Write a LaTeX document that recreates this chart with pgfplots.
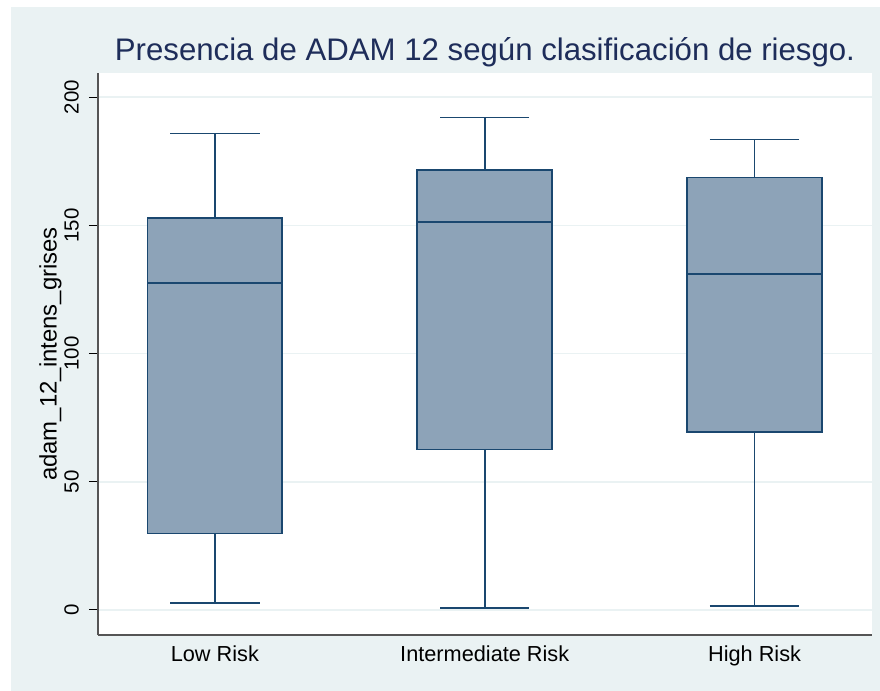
\documentclass[border=0pt]{standalone}
\usepackage{pgfplots}
\pgfplotsset{compat=1.18}
\usepgfplotslibrary{statistics}
\usepackage{fontspec}
\setmainfont{Liberation Sans}
\definecolor{bgc}{HTML}{EAF2F3}
\definecolor{navyc}{HTML}{1A476F}
\definecolor{boxc}{HTML}{8DA3B8}
\definecolor{titlec}{HTML}{1E2D5A}
\definecolor{axc}{HTML}{555555}
\begin{document}
\begin{tikzpicture}
\fill[white] (0bp,0bp) rectangle (880bp,691bp);
\fill[bgc] (11bp,0bp) rectangle (880bp,684bp);
\fill[white] (98bp,56bp) rectangle (872bp,618bp);
\begin{axis}[
  at={(98bp,56bp)}, anchor=south west,
  scale only axis, width=774bp, height=562bp,
  xmin=0.567, xmax=3.435, ymin=-9.75, ymax=209.4,
  axis x line*=bottom, axis y line*=left,
  axis line style={axc, line width=1.5bp},
  xtick={1,2,3},
  xticklabels={Low Risk,Intermediate Risk,High Risk},
  ytick={0,50,100,150,200},
  yticklabels={0,50,100,150,200},
  ymajorgrids,
  grid style={bgc, line width=1.5bp},
  tick align=outside,
  major tick length=9bp,
  major tick style={black, line width=1bp},
  xtick style={draw=none},
  yticklabel style={rotate=90, anchor=south, font=\fontsize{20.5}{24}\selectfont, inner sep=0pt, yshift=10bp},
  xticklabel style={font=\fontsize{21.8}{26}\selectfont, inner sep=0pt, anchor=north, yshift=-2bp},
  ylabel={adam\_12\_intens\_grises},
  ylabel style={at={(axis description cs:-0.0535,0.5)}, anchor=base, font=\fontsize{24}{28}\selectfont},
  title={Presencia de ADAM 12 según clasificación de riesgo.},
  title style={font=\fontsize{31.3}{36}\selectfont, text=titlec, yshift=-3bp},
  boxplot/draw direction=y,
]
\addplot+[draw=navyc, fill=boxc, line width=1.7bp, solid, mark=none, boxplot prepared={lower whisker=2.6, lower quartile=29.8, median=127.4, upper quartile=152.9, upper whisker=185.8, draw position=1, box extend=0.5, whisker extend=0.331}] coordinates {};
\addplot+[draw=navyc, fill=boxc, line width=1.7bp, solid, mark=none, boxplot prepared={lower whisker=0.8, lower quartile=62.6, median=151.2, upper quartile=171.5, upper whisker=192.1, draw position=2, box extend=0.5, whisker extend=0.331}] coordinates {};
\addplot+[draw=navyc, fill=boxc, line width=1.7bp, solid, mark=none, boxplot prepared={lower whisker=1.6, lower quartile=69.3, median=131.1, upper quartile=168.7, upper whisker=183.5, draw position=3, box extend=0.5, whisker extend=0.331}] coordinates {};
\end{axis}
\end{tikzpicture}
\end{document}
